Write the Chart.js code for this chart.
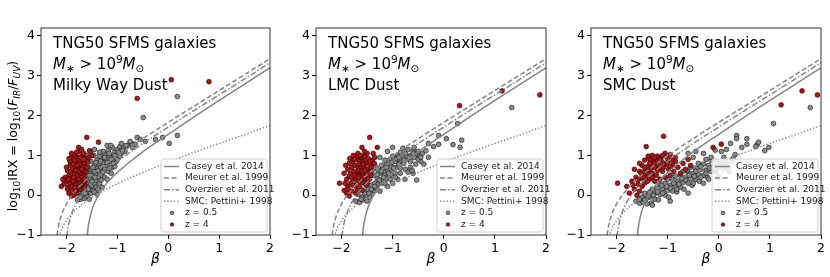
<!DOCTYPE html>
<html>
<head>
<meta charset="utf-8">
<script src="https://cdn.jsdelivr.net/npm/chart.js@4.4.1/dist/chart.umd.min.js"></script>
<style>
  body { margin: 0; background: #fff; width: 830px; height: 277px; position: relative; overflow: hidden; }
  .panel { position: absolute; top: 0; }
</style>
</head>
<body>
<div class="panel" style="left:0px"><canvas id="mw" width="278" height="277"></canvas></div>
<div class="panel" style="left:278px"><canvas id="lmc" width="276" height="277"></canvas></div>
<div class="panel" style="left:554px"><canvas id="smc" width="276" height="277"></canvas></div>
<script>
// ---- reference IRX-beta relations ----
const caseyBeta = [-1.6, -1.58, -1.55, -1.5, -1.4, -1.3, -1.2, -1.0, -0.8, -0.5, 0, 0.5, 1, 1.5, 2];
const caseyIRX  = [-1.19, -0.88, -0.63, -0.37, -0.07, 0.14, 0.31, 0.57, 0.79, 1.09, 1.53, 1.96, 2.38, 2.79, 3.2];

const meurerBeta = [-2.2, -2.18, -2.15, -2.1, -2.0, -1.8, -1.5, -1.0, -0.5, 0, 0.5, 1, 1.5, 2];
const meurerIRX  = [-1.19, -0.96, -0.74, -0.51, -0.22, 0.14, 0.51, 0.99, 1.42, 1.83, 2.23, 2.63, 3.03, 3.43];

const overzierBeta = [-2.01, -2.0, -1.98, -1.95, -1.9, -1.8, -1.6, -1.3, -1.0, -0.5, 0, 0.5, 1, 1.5, 2];
const overzierIRX  = [-1.33, -1.14, -0.92, -0.7, -0.47, -0.18, 0.18, 0.55, 0.85, 1.3, 1.71, 2.12, 2.52, 2.92, 3.33];

const smcBeta = [-2.15, -2.1, -2.0, -1.9, -1.7, -1.5, -1.0, -0.5, 0, 0.5, 1, 1.5, 2];
const smcIRX  = [-1.05, -0.87, -0.64, -0.48, -0.24, -0.06, 0.29, 0.57, 0.83, 1.07, 1.3, 1.52, 1.75];

const xTicks = [-2, -1, 0, 1, 2];
const yTicks = [-1, 0, 1, 2, 3, 4];

// ---- TNG50 galaxies, [beta, log IRX] ----
const mwZ4 = [
  [-1.95,0.05],[-1.9,-0.02],[-1.85,0.0],[-1.88,0.12],[-1.97,0.2],[-2.05,0.28],[-2.0,0.35],[-1.93,0.3],[-1.85,0.25],
  [-1.78,0.18],[-1.72,0.15],[-1.8,0.35],[-1.75,0.3],[-1.7,0.38],[-1.65,0.32],[-1.9,0.45],[-1.95,0.5],[-1.85,0.55],
  [-1.78,0.48],[-1.72,0.55],[-1.66,0.5],[-1.62,0.6],[-1.88,0.65],[-1.82,0.7],[-1.75,0.68],[-1.68,0.72],[-1.93,0.75],
  [-1.8,0.82],[-1.72,0.85],[-1.65,0.8],[-1.87,0.88],[-1.78,0.95],[-1.7,0.98],[-1.62,0.92],[-1.9,0.95],[-1.84,1.02],
  [-1.75,1.1],[-1.66,1.05],[-1.58,0.85],[-1.6,0.7],[-1.98,0.62],[-2.02,0.45],[-1.96,0.4],[-1.83,0.4],[-1.77,0.6],
  [-1.7,0.45],[-1.64,0.4],[-1.92,0.58],[-1.86,0.78],[-1.74,0.78],[-1.68,0.62],[-1.8,0.05],[-1.9,0.22],[-2.1,0.22],
  [-1.82,0.12],[-1.76,1.2],[-1.6,1.45],[-1.37,1.33],[-1.55,1.12],[-1.5,1.0],[-1.56,0.95],[-1.84,0.88],
  [-1.93,0.85],[-1.87,0.35],[-1.82,0.62],[-1.76,0.4],[-1.7,0.65],[-1.66,0.9],[-1.74,0.22],[-1.98,0.15],[-2.0,0.7],
  [-1.9,1.05],[-1.8,1.08],[-1.7,1.15],[-1.64,0.25],[-1.86,0.45],[-1.79,0.75],[-1.73,0.95],[-2.07,0.4],[-1.95,0.92],
  [-1.83,0.2],[-1.68,0.28],
  [-0.61,2.43],[0.06,2.9],[0.8,2.85]
];
const mwZ05 = [
  [-1.78,-0.12],[-1.72,-0.1],[-1.65,-0.08],[-1.7,0.0],[-1.6,-0.02],[-1.75,0.08],[-1.68,0.1],[-1.58,0.08],[-1.52,0.05],
  [-1.48,0.12],[-1.62,0.18],[-1.55,0.2],[-1.7,0.25],[-1.5,0.25],[-1.45,0.3],[-1.58,0.32],[-1.65,0.38],[-1.52,0.4],
  [-1.42,0.38],[-1.38,0.45],[-1.6,0.48],[-1.48,0.5],[-1.55,0.58],[-1.42,0.55],[-1.35,0.58],[-1.3,0.5],[-1.5,0.65],
  [-1.4,0.68],[-1.32,0.7],[-1.25,0.65],[-1.45,0.75],[-1.36,0.8],[-1.28,0.82],[-1.2,0.75],[-1.4,0.88],[-1.3,0.92],
  [-1.22,0.9],[-1.15,0.85],[-1.35,0.98],[-1.25,1.02],[-1.15,1.0],[-1.08,0.95],[-1.28,1.1],[-1.18,1.12],[-1.05,1.08],
  [-1.0,1.15],[-1.1,1.2],[-0.95,1.22],[-0.88,1.18],[-0.8,1.25],[-1.2,1.25],[-0.72,1.3],[-0.65,1.28],[-0.85,1.1],
  [-0.92,1.05],[-1.02,0.85],[-1.1,0.7],[-1.18,0.6],[-1.25,0.45],[-1.35,0.3],[-1.42,0.2],[-1.3,0.2],[-1.2,0.4],
  [-1.12,0.55],[-1.05,0.72],[-1.0,0.9],[-0.95,0.98],[-1.4,0.02],[-1.55,-0.1],[-1.45,0.6],[-1.58,0.72],[-1.52,0.85],
  [-1.46,1.0],[-1.62,0.62],[-1.68,0.5],[-1.6,1.0],[-1.52,1.1],[-1.45,1.15],
  [-1.73,-0.05],[-1.63,0.05],[-1.57,0.15],[-1.5,0.35],[-1.44,0.45],[-1.38,0.62],[-1.33,0.85],[-1.25,0.95],[-1.16,1.05],
  [-1.05,1.0],[-0.98,1.08],[-1.12,0.9],[-1.2,0.82],[-1.28,0.58],[-1.32,0.38],[-1.38,0.15],[-1.46,0.08],[-1.62,0.3],
  [-1.55,0.5],[-1.48,0.7],[-1.42,0.82],[-1.35,1.08],[-1.08,0.8],[-1.15,0.68],[-0.9,1.12],[-1.65,0.2],[-1.72,0.15],
  [-1.6,0.58],[-0.7,1.2],[-0.92,1.3],
  [-0.61,1.45],[-0.49,1.95],[-0.25,1.4],[-0.11,1.45],[0.02,1.3],[0.18,1.5],[0.18,2.48],[-0.45,1.35],[-0.55,1.4],
  [-0.75,1.35],[-0.83,1.25],[-1.13,1.25]
];

const lmcZ4 = [
  [-2.04,0.3],[-1.95,0.12],[-1.9,0.05],[-1.85,-0.02],[-1.8,0.1],[-1.88,0.22],[-1.82,0.3],[-1.75,0.25],[-1.7,0.18],
  [-1.65,0.22],[-1.9,0.4],[-1.85,0.48],[-1.78,0.42],[-1.72,0.38],[-1.66,0.35],[-1.6,0.32],[-1.55,0.4],[-1.82,0.55],
  [-1.76,0.6],[-1.7,0.55],[-1.64,0.5],[-1.58,0.55],[-1.52,0.5],[-1.8,0.7],[-1.74,0.75],[-1.68,0.7],[-1.62,0.68],
  [-1.56,0.72],[-1.5,0.65],[-1.45,0.6],[-1.78,0.85],[-1.7,0.9],[-1.64,0.85],[-1.58,0.88],[-1.52,0.82],[-1.46,0.78],
  [-1.42,0.7],[-1.72,0.98],[-1.62,0.95],[-1.55,0.98],[-1.48,0.92],[-1.4,0.88],[-1.85,0.8],[-1.88,0.65],[-1.68,1.05],
  [-1.6,1.2],[-1.45,1.45],[-1.38,1.05],[-1.3,1.2],[-1.35,0.95],[-1.42,0.5],[-1.48,0.4],[-1.52,0.25],[-1.6,0.12],
  [-1.72,0.05],[-1.95,0.55],[-1.84,0.92],[-1.77,1.0],[-1.66,0.62],[-1.58,0.45],[-1.5,1.05],
  [-1.93,0.3],[-1.87,0.15],[-1.8,0.45],[-1.74,0.5],[-1.67,0.45],[-1.6,0.6],[-1.54,0.62],[-1.48,0.55],[-1.44,0.85],
  [-1.66,0.78],[-1.75,0.9],[-1.58,0.78],[-1.68,0.12],[-1.78,0.25],[-1.92,0.75],[-1.5,0.3],[-1.63,1.0],[-1.55,1.1],
  [-1.36,0.8],
  [0.31,2.25],[1.14,2.62],[1.88,2.52]
];
const lmcZ05 = [
  [-1.72,-0.15],[-1.65,-0.18],[-1.58,-0.12],[-1.5,-0.15],[-1.6,-0.05],[-1.68,0.02],[-1.52,0.0],[-1.45,-0.05],[-1.4,0.05],
  [-1.55,0.1],[-1.62,0.15],[-1.48,0.15],[-1.38,0.12],[-1.32,0.18],[-1.42,0.25],[-1.55,0.3],[-1.35,0.3],[-1.28,0.28],
  [-1.22,0.3],[-1.45,0.4],[-1.3,0.42],[-1.2,0.4],[-1.12,0.42],[-1.38,0.5],[-1.25,0.55],[-1.15,0.52],[-1.05,0.5],
  [-1.3,0.65],[-1.2,0.65],[-1.1,0.62],[-1.0,0.6],[-0.95,0.55],[-1.22,0.75],[-1.12,0.78],[-1.02,0.72],[-0.92,0.7],
  [-0.85,0.68],[-1.15,0.88],[-1.05,0.9],[-0.95,0.85],[-0.85,0.82],[-0.78,0.8],[-1.0,0.98],[-0.9,1.0],[-0.8,0.95],
  [-0.72,0.9],[-0.65,0.85],[-0.85,1.08],[-0.75,1.05],[-0.65,1.0],[-0.55,1.02],[-0.48,0.98],[-0.7,1.15],[-0.6,1.12],
  [-0.5,1.1],[-0.42,1.05],[-0.35,1.12],[-0.8,1.18],[-0.58,1.2],[-0.75,0.65],[-0.65,0.7],[-0.55,0.78],
  [-0.45,0.85],[-0.6,0.55],[-0.76,0.4],[-0.9,0.4],[-1.0,0.3],[-1.1,0.22],[-1.25,0.1],[-0.53,0.38],[-0.39,0.78],
  [-0.3,0.95],[-1.0,1.2],[-1.1,1.1],[-1.25,0.95],[-1.35,0.75],[-1.4,0.62],
  [-1.62,-0.1],[-1.55,0.05],[-1.47,0.05],[-1.42,0.15],[-1.35,0.22],[-1.26,0.38],[-1.18,0.45],[-1.08,0.55],[-0.98,0.68],
  [-0.88,0.78],[-0.78,0.88],[-0.68,0.95],[-0.58,0.95],[-0.5,0.9],[-0.92,0.92],[-1.02,0.82],[-1.12,0.7],[-1.22,0.6],
  [-1.3,0.52],[-1.15,0.3],[-1.05,0.4],[-0.95,0.45],[-0.85,0.55],[-0.7,0.58],[-0.62,0.62],[-0.45,0.95],[-0.88,0.95],
  [-0.6,1.05],
  [-0.2,1.22],[-0.1,1.28],[-0.3,1.3],[0.05,1.42],[-0.1,1.5],[0.18,1.27],[0.32,1.2],[0.35,1.38],[0.27,1.8],[1.33,2.2]
];

const smcZ4 = [
  [-1.98,0.3],[-1.8,0.22],[-1.7,0.35],[-1.75,0.05],[-1.6,0.0],[-1.65,0.15],[-1.55,0.1],[-1.58,0.28],[-1.5,0.22],
  [-1.45,0.3],[-1.62,0.45],[-1.52,0.42],[-1.42,0.45],[-1.35,0.4],[-1.55,0.6],[-1.45,0.58],[-1.38,0.6],[-1.3,0.55],
  [-1.22,0.5],[-1.5,0.75],[-1.4,0.72],[-1.32,0.75],[-1.25,0.7],[-1.15,0.68],[-1.45,0.88],[-1.35,0.9],[-1.28,0.85],
  [-1.2,0.88],[-1.1,0.82],[-1.02,0.78],[-1.38,0.98],[-1.3,1.0],[-1.2,0.98],[-1.12,0.95],[-1.0,0.92],[-0.92,0.88],
  [-1.25,0.35],[-1.15,0.4],[-1.05,0.45],[-0.95,0.5],[-0.88,0.6],[-0.8,0.7],[-0.75,0.55],[-0.7,0.8],[-0.65,0.65],
  [-1.1,0.6],[-0.98,0.65],[-0.9,0.75],[-0.85,0.85],[-1.05,1.05],[-0.95,1.02],[-1.42,1.22],[-1.08,1.48],
  [-0.55,0.75],[-0.6,0.9],[-1.55,0.8],[-1.65,0.65],
  [-1.48,0.45],[-1.4,0.55],[-1.33,0.65],[-1.26,0.8],[-1.18,0.75],[-1.08,0.7],[-1.0,0.82],[-1.15,0.9],[-1.25,0.95],
  [-1.35,0.8],[-1.45,0.68],[-1.52,0.55],[-1.58,0.38],[-1.4,0.35],[-1.3,0.45],[-1.2,0.62],[-0.95,0.72],[-0.85,0.95],
  [-1.1,1.0],[-1.68,0.25],
  [-0.11,1.2],[0.05,1.28],[1.22,2.27],[1.63,2.62],[1.93,2.52]
];
const smcZ05 = [
  [-1.62,-0.15],[-1.55,-0.2],[-1.48,-0.18],[-1.4,-0.22],[-1.32,-0.2],[-1.5,-0.05],[-1.42,-0.08],[-1.35,-0.05],[-1.25,-0.1],
  [-1.18,-0.12],[-1.45,0.05],[-1.35,0.08],[-1.25,0.05],[-1.15,0.02],[-1.05,0.0],[-0.98,-0.05],[-1.3,0.15],[-1.2,0.18],
  [-1.1,0.15],[-1.0,0.12],[-0.9,0.1],[-0.82,0.08],[-1.15,0.28],[-1.05,0.3],[-0.95,0.25],[-0.85,0.22],[-0.75,0.2],
  [-0.68,0.15],[-1.0,0.4],[-0.9,0.38],[-0.8,0.35],[-0.7,0.32],[-0.6,0.3],[-0.52,0.25],[-0.85,0.48],[-0.75,0.5],
  [-0.65,0.45],[-0.55,0.42],[-0.45,0.4],[-0.38,0.35],[-0.7,0.6],[-0.6,0.58],[-0.5,0.55],[-0.4,0.52],[-0.3,0.5],
  [-0.22,0.45],[-0.55,0.7],[-0.45,0.68],[-0.35,0.65],[-0.25,0.62],[-0.15,0.6],[-0.05,0.58],[-0.4,0.8],[-0.3,0.78],
  [-0.2,0.75],[-0.1,0.72],[0.0,0.7],[0.1,0.68],[-0.25,0.9],[-0.15,0.88],[-0.05,0.85],[0.05,0.82],[0.15,0.8],
  [0.25,0.85],[-0.07,1.13],[0.1,0.95],[0.23,1.3],[0.32,1.02],[-0.3,1.05],[-0.5,0.95],
  [0.45,1.2],[0.15,1.15],[0.05,1.1],[-0.6,1.05],[-0.45,1.1],[-1.3,-0.25],[-0.95,-0.15],[-0.6,0.05],[-0.3,0.3],
  [0.0,0.45],[0.2,0.6],
  [-1.45,-0.12],[-1.38,-0.02],[-1.28,0.0],[-1.2,0.08],[-1.1,0.05],[-0.95,0.18],[-0.88,0.3],[-0.78,0.28],[-0.65,0.38],
  [-0.58,0.5],[-0.48,0.48],[-0.35,0.45],[-0.25,0.55],[-0.18,0.68],[-0.08,0.65],[0.02,0.75],[0.1,0.85],[0.18,0.72],
  [-0.35,0.72],[-0.62,0.62],[-0.72,0.42],[-0.82,0.15],[-1.02,0.22],[-1.12,0.25],[-0.45,0.6],[-0.15,0.95],[0.28,0.92],
  [-0.2,0.4],[-0.5,0.3],[-1.55,-0.1],
  [0.35,1.5],[0.35,1.42],[0.55,1.42],[0.55,1.28],[0.75,1.27],[0.78,1.33],[0.72,1.22],[0.9,1.12],[0.98,1.2],
  [1.07,1.8],[1.79,2.2]
];

const FONT = "'DejaVu Sans', sans-serif";
const LINE_GRAY = '#858585';

function pts(a) { return a.map(p => ({ x: p[0], y: p[1] })); }
function curve(b, v) { return b.map((x, i) => ({ x: x, y: v[i] })); }
function minus(v) { return v < 0 ? '\u2212' + Math.abs(v) : String(v); }

// draw a run of text pieces (font, vertical offset) starting at x
function richText(ctx, parts, x, y) {
  for (const p of parts) {
    ctx.font = p.f;
    ctx.fillText(p.t, x, y + (p.dy || 0));
    x += ctx.measureText(p.t).width;
  }
  return x;
}
function richWidth(ctx, parts) {
  let w = 0;
  for (const p of parts) { ctx.font = p.f; w += ctx.measureText(p.t).width; }
  return w;
}

const legendItems = [
  { label: 'Casey et al. 2014', dash: [] },
  { label: 'Meurer et al. 1999', dash: [5, 2.5] },
  { label: 'Overzier et al. 2011', dash: [6, 2, 1.5, 2] },
  { label: 'SMC: Pettini+ 1998', dash: [1.3, 2] },
  { label: 'z = 0.5', dot: '#8a8a8a' },
  { label: 'z = 4', dot: '#b01515' }
];

const decor = {
  id: 'decor',
  afterDatasetsDraw(chart, args, opts) {
    const ctx = chart.ctx, a = chart.chartArea;
    ctx.save();
    // axes frame
    ctx.strokeStyle = '#000';
    ctx.lineWidth = 0.8;
    ctx.strokeRect(a.left, a.top, a.right - a.left, a.bottom - a.top);

    // annotation block
    ctx.fillStyle = '#000';
    ctx.textBaseline = 'alphabetic';
    ctx.textAlign = 'left';
    const big = '15px ' + FONT, bigI = 'italic 15px ' + FONT, sm = '10.5px ' + FONT;
    const tx = a.left + 12;
    ctx.font = big;
    ctx.fillText('TNG50 SFMS galaxies', tx, 48);
    richText(ctx, [
      { t: 'M', f: bigI }, { t: '\u2217', f: sm, dy: 3 }, { t: ' > 10', f: big },
      { t: '9', f: sm, dy: -6 }, { t: 'M', f: bigI }, { t: '\u2299', f: sm, dy: 3 }
    ], tx, 69);
    ctx.font = big;
    ctx.fillText(opts.dust, tx, 90);

    // beta axis label
    ctx.font = 'italic 14px ' + FONT;
    ctx.textAlign = 'center';
    ctx.fillText('\u03b2', (a.left + a.right) / 2, 263);
    ctx.textAlign = 'left';

    // y axis label (first panel only)
    if (opts.yTitle) {
      const n = '12.5px ' + FONT, s = '9px ' + FONT, i = 'italic 12.5px ' + FONT, si = 'italic 9px ' + FONT;
      const parts = [
        { t: 'log', f: n }, { t: '10', f: s, dy: 3 }, { t: 'IRX = log', f: n }, { t: '10', f: s, dy: 3 },
        { t: '(', f: n }, { t: 'F', f: i }, { t: 'IR', f: si, dy: 3 }, { t: '/', f: n },
        { t: 'F', f: i }, { t: 'UV', f: si, dy: 3 }, { t: ')', f: n }
      ];
      ctx.save();
      ctx.translate(17, 136);
      ctx.rotate(-Math.PI / 2);
      richText(ctx, parts, -richWidth(ctx, parts) / 2, 0);
      ctx.restore();
    }

    // legend box, lower right inside the axes
    const bw = 106, bh = 73;
    const bx = a.right - 3 - bw, by = a.bottom - 3 - bh;
    ctx.fillStyle = 'rgba(255,255,255,0.85)';
    ctx.strokeStyle = '#d0d0d0';
    ctx.lineWidth = 1;
    ctx.beginPath();
    ctx.roundRect(bx, by, bw, bh, 2);
    ctx.fill();
    ctx.stroke();
    ctx.font = '9px ' + FONT;
    ctx.textBaseline = 'middle';
    legendItems.forEach((it, k) => {
      const cy = by + 7.5 + k * 11.6;
      if (it.dot) {
        ctx.setLineDash([]);
        ctx.beginPath();
        ctx.arc(bx + 11, cy, 1.8, 0, Math.PI * 2);
        ctx.fillStyle = it.dot;
        ctx.fill();
        ctx.strokeStyle = '#111';
        ctx.lineWidth = 0.6;
        ctx.stroke();
      } else {
        ctx.setLineDash(it.dash);
        ctx.strokeStyle = LINE_GRAY;
        ctx.lineWidth = 1.5;
        ctx.beginPath();
        ctx.moveTo(bx + 3, cy);
        ctx.lineTo(bx + 18, cy);
        ctx.stroke();
      }
      ctx.setLineDash([]);
      ctx.fillStyle = '#222';
      ctx.fillText(it.label, bx + 24, cy);
    });
    ctx.restore();
  }
};

function lineSet(b, v, dash) {
  return {
    data: curve(b, v), showLine: true, pointRadius: 0, borderColor: LINE_GRAY,
    borderWidth: 1.5, borderDash: dash, cubicInterpolationMode: 'monotone', order: 0
  };
}

function makePanel(id, dust, z05, z4, yWidth, padRight, yTitle) {
  const config = {
    type: 'scatter',
    data: {
      datasets: [
        lineSet(caseyBeta, caseyIRX, []),
        lineSet(meurerBeta, meurerIRX, [5, 2.5]),
        lineSet(overzierBeta, overzierIRX, [6, 2, 1.5, 2]),
        lineSet(smcBeta, smcIRX, [1.3, 2]),
        { label: 'z = 4', data: pts(z4), pointRadius: 2.4, backgroundColor: '#b01515',
          borderColor: '#1a0000', borderWidth: 0.6, order: 1 },
        { label: 'z = 0.5', data: pts(z05), pointRadius: 2.4, backgroundColor: '#8a8a8a',
          borderColor: '#111', borderWidth: 0.6, order: 2 }
      ]
    },
    options: {
      responsive: false,
      animation: false,
      events: [],
      layout: { padding: { left: 0, right: padRight, top: 28, bottom: 0 } },
      plugins: {
        legend: { display: false },
        tooltip: { enabled: false },
        decor: { dust: dust, yTitle: yTitle }
      },
      scales: {
        x: {
          type: 'linear', min: -2.5, max: 2,
          afterBuildTicks: s => { s.ticks = xTicks.map(v => ({ value: v })); },
          afterFit: s => { s.height = 42; },
          grid: { drawOnChartArea: false, color: '#000', tickLength: 4 },
          border: { display: false },
          ticks: { color: '#000', font: { family: FONT, size: 12.5 }, padding: 2, callback: minus }
        },
        y: {
          type: 'linear', min: -1, max: 4.2,
          afterBuildTicks: s => { s.ticks = yTicks.map(v => ({ value: v })); },
          afterFit: s => { s.width = yWidth; },
          grid: { drawOnChartArea: false, color: '#000', tickLength: 4 },
          border: { display: false },
          ticks: { color: '#000', font: { family: FONT, size: 12.5 }, padding: 2, callback: minus }
        }
      }
    },
    plugins: [decor]
  };
  return new Chart(document.getElementById(id), config);
}

makePanel('mw', 'Milky Way Dust', mwZ05, mwZ4, 41, 8, true);
makePanel('lmc', 'LMC Dust', lmcZ05, lmcZ4, 38, 8, false);
makePanel('smc', 'SMC Dust', smcZ05, smcZ4, 37, 9, false);
</script>
</body>
</html>
